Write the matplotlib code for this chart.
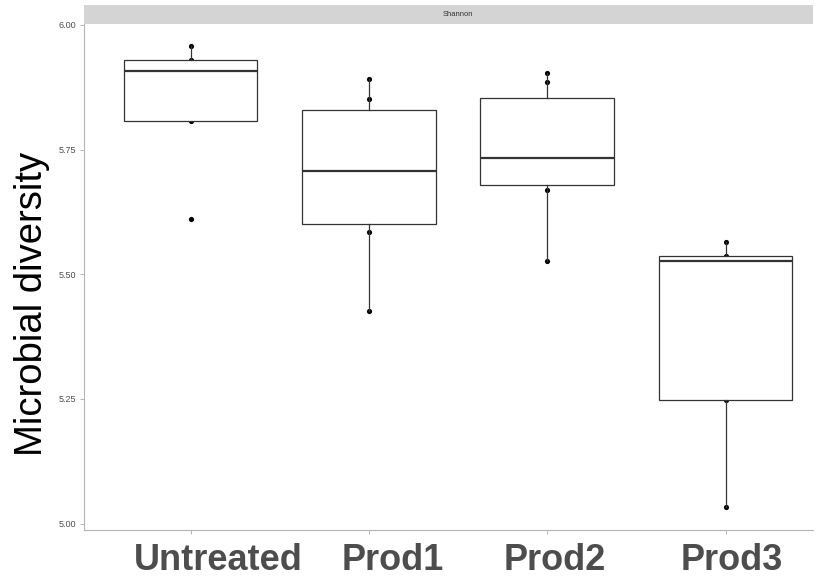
import matplotlib.pyplot as plt
import matplotlib.transforms as mtransforms

groups = ["Untreated", "Prod1", "Prod2", "Prod3"]
# Shannon index per sample
untreated = [5.958, 5.930, 5.908, 5.808, 5.611]
prod1 = [5.891, 5.851, 5.767, 5.648, 5.584, 5.427]
prod2 = [5.903, 5.885, 5.757, 5.709, 5.669, 5.527]
prod3 = [5.564, 5.537, 5.527, 5.247, 5.034]
yticks = [5.00, 5.25, 5.50, 5.75, 6.00]

data = [untreated, prod1, prod2, prod3]
positions = [1, 2, 3, 4]

fig = plt.figure(figsize=(8.27, 5.78), dpi=100)
ax = fig.add_axes([83.5 / 827, 1 - 530 / 578, (813 - 83.5) / 827, (530 - 24) / 578])

# sample points first, the white boxes hide the ones inside
for pos, vals in zip(positions, data):
    ax.scatter([pos] * len(vals), vals, s=14, color="black", zorder=1, linewidths=0)

bp = ax.boxplot(data, positions=positions, widths=0.75, patch_artist=True,
                showfliers=False, whis=1.5, zorder=2,
                boxprops=dict(facecolor="white", edgecolor="#333333", linewidth=0.9),
                medianprops=dict(color="#333333", linewidth=1.6),
                whiskerprops=dict(color="#333333", linewidth=0.9),
                capprops=dict(linewidth=0))

ax.set_xlim(0.4, 4.49)
ax.set_ylim(4.987, 6.002)
ax.set_yticks(yticks)
ax.set_yticklabels([f"{t:.2f}" for t in yticks], fontsize=6.5, color="#4d4d4d",
                   family="Liberation Sans")
ax.set_xticks(positions)
ax.set_xticklabels([])
ax.tick_params(axis="x", length=3, width=0.6, color="#aaaaaa")
ax.tick_params(axis="y", length=3, width=0.6, color="#aaaaaa", pad=2)

# group labels, a bit right of their ticks like in the original
shifts = [28, 24, 8, 6]
base = ax.get_xaxis_transform()
for pos, name, dx in zip(positions, groups, shifts):
    tr = base + mtransforms.ScaledTranslation(dx / 100, -13 / 100, fig.dpi_scale_trans)
    ax.text(pos, 0, name, transform=tr, ha="center", va="top", fontsize=26,
            fontweight="bold", color="#4d4d4d", family="Liberation Sans")

for side in ["top", "right"]:
    ax.spines[side].set_visible(False)
for side in ["left", "bottom"]:
    ax.spines[side].set_color("#b5b5b5")
    ax.spines[side].set_linewidth(0.8)

ax.set_ylabel("Microbial diversity", fontsize=27.5, family="Liberation Sans",
              color="black")
ax.yaxis.set_label_coords(-33 / 729.5, 0.447)

# facet strip
strip = fig.add_axes([83.5 / 827, 1 - 24 / 578, (813 - 83.5) / 827, 19 / 578])
strip.set_facecolor("#d4d4d4")
strip.set_xticks([])
strip.set_yticks([])
for s in strip.spines.values():
    s.set_visible(False)
strip.text((2.5 - 0.4) / (4.49 - 0.4), 0.5, "Shannon", ha="center", va="center",
           fontsize=5.5, color="#333333", family="Liberation Sans", transform=strip.transAxes)

fig.savefig("out.png", dpi=100)
